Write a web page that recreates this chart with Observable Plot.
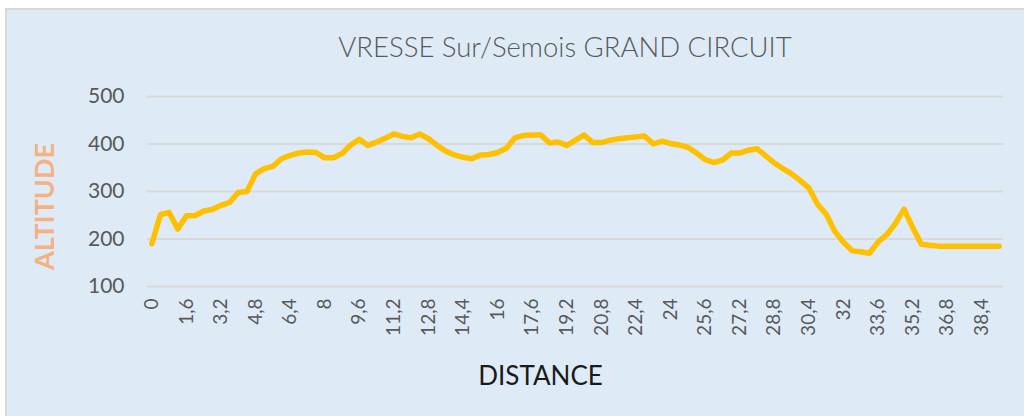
<!DOCTYPE html>
<html><head><meta charset="utf-8">
<script src="https://cdn.jsdelivr.net/npm/d3@7"></script>
<script src="https://cdn.jsdelivr.net/npm/@observablehq/plot@0.6"></script>
<style>
html,body{margin:0;padding:0;background:#fff;width:1024px;height:416px;overflow:hidden;font-family:Lato,"Open Sans",sans-serif;}
#frame{position:absolute;left:5px;top:8px;width:1030px;height:420px;background:#DEEBF7;border-top:2px solid #D9D9D9;border-left:2px solid #D9D9D9;box-sizing:border-box;}
#title{position:absolute;left:0;width:1130px;top:30px;text-align:center;font-size:27.5px;font-weight:300;color:#595959;line-height:34px;}
#chart{position:absolute;left:0;top:70px;}
</style></head><body>
<div id="frame"></div>
<div id="title">VRESSE Sur/Semois GRAND CIRCUIT</div>
<div id="chart"></div>
<script>
const distances = ["0","0,4","0,8","1,2","1,6","2","2,4","2,8","3,2","3,6","4","4,4","4,8","5,2","5,6","6","6,4","6,8","7,2","7,6","8","8,4","8,8","9,2","9,6","10","10,4","10,8","11,2","11,6","12","12,4","12,8","13,2","13,6","14","14,4","14,8","15,2","15,6","16","16,4","16,8","17,2","17,6","18","18,4","18,8","19,2","19,6","20","20,4","20,8","21,2","21,6","22","22,4","22,8","23,2","23,6","24","24,4","24,8","25,2","25,6","26","26,4","26,8","27,2","27,6","28","28,4","28,8","29,2","29,6","30","30,4","30,8","31,2","31,6","32","32,4","32,8","33,2","33,6","34","34,4","34,8","35,2","35,6","36","36,4","36,8","37,2","37,6","38","38,4","38,8","39,2"];
const altitudes = [190,251,256,221,249,249,259,262,271,277,298,300,337,348,353,369,376,381,383,382,371,371,380,398,410,397,404,412,421,416,413,421,411,397,385,377,372,369,377,378,382,391,413,418,419,419,402,404,397,408,419,403,403,408,411,413,415,417,400,406,401,398,393,381,367,361,366,381,381,387,390,375,360,348,337,323,307,273,252,216,193,175,173,170,194,209,233,263,224,189,187,185,185,185,185,185,185,185,185];
const xTickLabels = ["0","1,6","3,2","4,8","6,4","8","9,6","11,2","12,8","14,4","16","17,6","19,2","20,8","22,4","24","25,6","27,2","28,8","30,4","32","33,6","35,2","36,8","38,4"];
const yTicks = [100,200,300,400,500];
const yLabel = "ALTITUDE";
const xLabel = "DISTANCE";

const data = distances.map((d, i) => ({distance: d, altitude: altitudes[i]}));

const chart = Plot.plot({
  width: 1024, height: 346,
  marginLeft: 147, marginRight: 21, marginTop: 26, marginBottom: 130,
  style: {background: "transparent", fontFamily: "Lato, 'Open Sans', sans-serif", color: "#595959"},
  x: {type: "point", domain: distances, padding: 0.5},
  y: {domain: [100, 500]},
  marks: [
    Plot.gridY(yTicks, {stroke: "#D9D9D9", strokeOpacity: 1, strokeWidth: 2}),
    Plot.axisY(yTicks, {tickSize: 0, tickPadding: 23, fontSize: 21, fill: "#595959", label: null}),
    Plot.axisX(xTickLabels, {tickSize: 0, tickRotate: -90, tickPadding: 12, fontSize: 19, fill: "#595959", label: null}),
    Plot.line(data, {x: "distance", y: "altitude", stroke: "#FFC000", strokeWidth: 5.5, strokeLinejoin: "round", strokeLinecap: "round"}),
    Plot.text([yLabel], {frameAnchor: "left", textAnchor: "middle", lineAnchor: "middle", dx: -102, dy: 15, rotate: -90, fill: "#F4B183", fontWeight: "bold", fontSize: 27}),
    Plot.text([xLabel], {frameAnchor: "bottom", textAnchor: "middle", lineAnchor: "middle", dx: -35, dy: 90, fill: "#1a1a1a", fontSize: 26})
  ]
});
document.getElementById("chart").appendChild(chart);
</script>
</body></html>
